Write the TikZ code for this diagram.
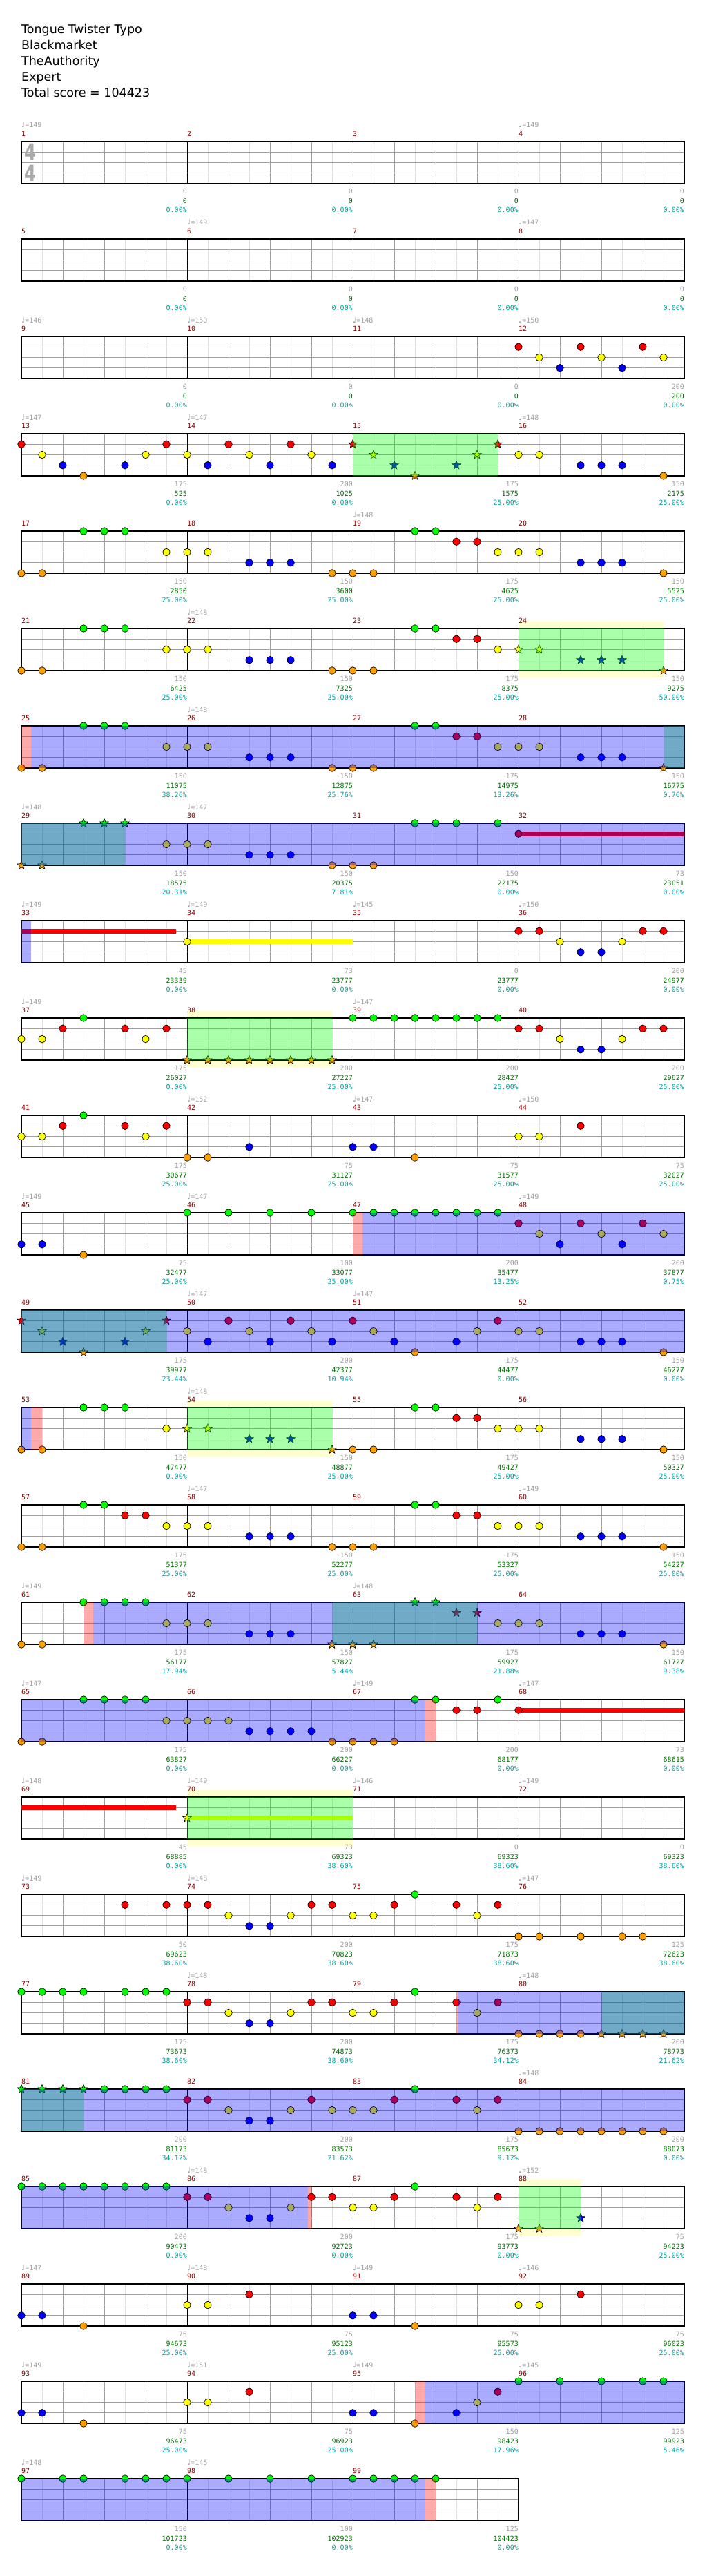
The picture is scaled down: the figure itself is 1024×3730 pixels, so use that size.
\documentclass[tikz,border=0pt]{standalone}
\usepackage{fontspec}
\setmainfont{DejaVu Sans}
\newfontfamily\labelfont{DejaVu Sans Mono}
\usetikzlibrary{shapes.geometric}

\definecolor{fretgreen}{RGB}{0,255,0}
\definecolor{fretred}{RGB}{255,0,0}
\definecolor{fretyellow}{RGB}{255,255,0}
\definecolor{fretblue}{RGB}{0,0,255}
\definecolor{fretorange}{RGB}{255,160,0}
\definecolor{gridgray}{RGB}{160,160,160}
\definecolor{gridlight}{RGB}{222,222,222}
\definecolor{labelgray}{RGB}{160,160,160}
\definecolor{measred}{RGB}{140,0,0}
\definecolor{scoregreen}{RGB}{0,110,0}
\definecolor{pctcyan}{RGB}{0,160,160}
\definecolor{phraseyellow}{RGB}{255,255,208}
\definecolor{siggray}{RGB}{170,170,170}

\newcommand{\smallfont}{\labelfont\fontsize{10}{12}\selectfont}

% staff of one row: #1 row, #2 number of measures
\newcommand{\drawstaff}[2]{%
  \pgfmathsetmacro\ry{205+141*(#1-1)}%
  \pgfmathsetmacro\rx{31+240*#2}%
  \pgfmathtruncatemacro\nlast{8*#2-1}%
  \pgfmathtruncatemacro\nm{#2-1}%
  \fill[white] (31,\ry) rectangle ({\rx},{\ry+61});
  \foreach \i in {1,3,...,\nlast} \draw[eighthline] ({31+30*\i},\ry) -- ({31+30*\i},{\ry+61});
  \foreach \i in {2,4,...,\nlast} \draw[quarterline] ({31+30*\i},\ry) -- ({31+30*\i},{\ry+61});
  \foreach \l in {1,2,3} \draw[stringline] (31,{\ry+15.25*\l}) -- ({\rx},{\ry+15.25*\l});
  \foreach \j in {0,...,\nm} {
    \pgfmathtruncatemacro\mnum{4*(#1-1)+\j+1}
    \draw[barline] ({31+240*\j},\ry) -- ({31+240*\j},{\ry+61});
    \node[measnum] (m\mnum) at ({31+240*\j},{\ry-7.5}) {\mnum};
  }
  \draw[staffborder] (31,\ry) rectangle ({\rx},{\ry+61});
}
% gems: #1 row, #2 style, #3 list eighth/lane
\newcommand{\drawnotes}[3]{%
  \pgfmathsetmacro\ry{205+141*(#1-1)}%
  \foreach \k/\l in {#3}
    \node[#2, lane\l] (n-#1-\k) at ({31+30*\k},{\ry+15.25*\l}) {};
}
% sustain: #1 row, #2 lane, #3 from, #4 to, #5 colour
\newcommand{\sustain}[5]{%
  \pgfmathsetmacro\ry{205+141*(#1-1)+15.25*#2}%
  \coordinate (sus-#1-#2-a) at (#3,\ry);
  \coordinate (sus-#1-#2-b) at (#4,\ry);
  \draw[sustainline, draw=#5] (sus-#1-#2-a) -- (sus-#1-#2-b);
}
% shaded zone on the staff: #1 row, #2 from, #3 to, #4 style
\newcommand{\spzone}[4]{%
  \pgfmathsetmacro\ry{205+141*(#1-1)}%
  \fill[#4] (#2,\ry) rectangle (#3,{\ry+61});
}
% pale box behind a phrase: #1 row, #2 from, #3 to
\newcommand{\phrase}[3]{%
  \pgfmathsetmacro\ry{205+141*(#1-1)}%
  \fill[phrasebox] (#2,{\ry-10}) rectangle (#3,{\ry+71});
}
% tempo marks: #1 row, #2 list measure/bpm
\newcommand{\tempos}[2]{%
  \pgfmathsetmacro\ry{205+141*(#1-1)}%
  \foreach \j/\bpm in {#2}
    \node[tempolabel] (t-#1-\j) at ({31+240*\j},{\ry-20}) {{\rmfamily\fontsize{11}{11}\selectfont ♩}=\bpm};
}
% labels under each measure: #1 row, #2 list gain/score/percent
\newcommand{\scores}[2]{%
  \pgfmathsetmacro\ry{205+141*(#1-1)}%
  \foreach \ga/\sc/\pc [count=\j] in {#2} {
    \node[gainlabel] (g-#1-\j) at ({31+240*\j},{\ry+76}) {\ga};
    \node[scorelabel] (s-#1-\j) at ({31+240*\j},{\ry+90}) {\sc};
    \node[pctlabel] (p-#1-\j) at ({31+240*\j},{\ry+103}) {\pc\%};
  }
}

\begin{document}
\begin{tikzpicture}[
    x=1pt, y=-1pt,
    gem/.style={circle, draw=black, line width=0.7pt, minimum size=10.5pt, inner sep=0pt},
    stargem/.style={star, star points=5, star point ratio=2.3, draw=black, line width=0.6pt, minimum size=13pt, inner sep=0pt},
    lane0/.style={fill=fretgreen},
    lane1/.style={fill=fretred},
    lane2/.style={fill=fretyellow},
    lane3/.style={fill=fretblue},
    lane4/.style={fill=fretorange},
    eighthline/.style={draw=gridlight, line width=1pt},
    quarterline/.style={draw=gridgray, line width=1pt},
    stringline/.style={draw=gridgray, line width=1pt},
    barline/.style={draw=black, line width=1pt},
    staffborder/.style={draw=black, line width=1.4pt},
    sustainline/.style={line width=7pt},
    spactive/.style={fill=blue, fill opacity=0.333},
    spphrase/.style={fill=green, fill opacity=0.333},
    spstart/.style={fill=red, fill opacity=0.333},
    phrasebox/.style={fill=phraseyellow},
    measnum/.style={anchor=base west, inner sep=0pt, text=measred, font=\smallfont},
    tempolabel/.style={anchor=base west, inner sep=0pt, text=labelgray, font=\smallfont},
    gainlabel/.style={anchor=base east, inner sep=0pt, text=labelgray, font=\smallfont},
    scorelabel/.style={anchor=base east, inner sep=0pt, text=scoregreen, font=\smallfont},
    pctlabel/.style={anchor=base east, inner sep=0pt, text=pctcyan, font=\smallfont},
    titletext/.style={anchor=base west, inner sep=0pt, font=\fontsize{17.5}{21}\selectfont},
    timesig/.style={inner sep=0pt, text=siggray, xscale=0.77, font=\fontsize{32}{32}\selectfont\bfseries}
]
\useasboundingbox (0,0) rectangle (1024,3730);

% ===== Header =====
\node[titletext] (song) at (31,49) {Tongue Twister Typo};
\node[titletext] (artist) at (31,72) {Blackmarket};
\node[titletext] (charter) at (31,95) {TheAuthority};
\node[titletext] (level) at (31,118) {Expert};
\node[titletext] (total) at (31,141) {Total score = 104423};

% ===== Row 1: measures 1-4 =====
\drawstaff{1}{4}
\node[timesig] (sigtop) at (44.5,220) {4};
\node[timesig] (sigbot) at (44.5,251) {4};
\tempos{1}{0/149,3/149}
\scores{1}{0/0/0.00,0/0/0.00,0/0/0.00,0/0/0.00}

% ===== Row 2: measures 5-8 =====
\drawstaff{2}{4}
\tempos{2}{1/149,3/147}
\scores{2}{0/0/0.00,0/0/0.00,0/0/0.00,0/0/0.00}

% ===== Row 3: measures 9-12 =====
\drawstaff{3}{4}
\drawnotes{3}{gem}{24/1,25/2,26/3,27/1,28/2,29/3,30/1,31/2}
\tempos{3}{0/146,1/150,2/148,3/150}
\scores{3}{0/0/0.00,0/0/0.00,0/0/0.00,200/200/0.00}

% ===== Row 4: measures 13-16 =====
\drawstaff{4}{4}
\drawnotes{4}{gem}{0/1,1/2,2/3,3/4,5/3,6/2,7/1,8/2,9/3,10/1,11/2,12/3,13/1,14/2,15/3,24/2,25/2,27/3,28/3,29/3,31/4}
\drawnotes{4}{stargem}{16/1,17/2,18/3,19/4,21/3,22/2,23/1}
\spzone{4}{511}{721}{spphrase}
\tempos{4}{0/147,1/147,3/148}
\scores{4}{175/525/0.00,200/1025/0.00,175/1575/25.00,150/2175/25.00}

% ===== Row 5: measures 17-20 =====
\drawstaff{5}{4}
\drawnotes{5}{gem}{0/4,1/4,3/0,4/0,5/0,7/2,8/2,9/2,11/3,12/3,13/3,15/4,16/4,17/4,19/0,20/0,21/1,22/1,23/2,24/2,25/2,27/3,28/3,29/3,31/4}
\tempos{5}{2/148}
\scores{5}{150/2850/25.00,150/3600/25.00,175/4625/25.00,150/5525/25.00}

% ===== Row 6: measures 21-24 =====
\phrase{6}{751}{961}
\drawstaff{6}{4}
\drawnotes{6}{gem}{0/4,1/4,3/0,4/0,5/0,7/2,8/2,9/2,11/3,12/3,13/3,15/4,16/4,17/4,19/0,20/0,21/1,22/1,23/2}
\drawnotes{6}{stargem}{24/2,25/2,27/3,28/3,29/3,31/4}
\spzone{6}{751}{961}{spphrase}
\tempos{6}{1/148}
\scores{6}{150/6425/25.00,150/7325/25.00,175/8375/25.00,150/9275/50.00}

% ===== Row 7: measures 25-28 =====
\drawstaff{7}{4}
\drawnotes{7}{gem}{0/4,1/4,3/0,4/0,5/0,7/2,8/2,9/2,11/3,12/3,13/3,15/4,16/4,17/4,19/0,20/0,21/1,22/1,23/2,24/2,25/2,27/3,28/3,29/3}
\drawnotes{7}{stargem}{31/4}
\spzone{7}{31}{45}{spstart}
\spzone{7}{961}{991}{spphrase}
\spzone{7}{45}{991}{spactive}
\tempos{7}{1/148}
\scores{7}{150/11075/38.26,150/12875/25.76,175/14975/13.26,150/16775/0.76}

% ===== Row 8: measures 29-32 =====
\drawstaff{8}{4}
\sustain{8}{1}{751}{991}{fretred}
\drawnotes{8}{stargem}{0/4,1/4,3/0,4/0,5/0}
\drawnotes{8}{gem}{7/2,8/2,9/2,11/3,12/3,13/3,15/4,16/4,17/4,19/0,20/0,21/0,23/0,24/1}
\spzone{8}{31}{181}{spphrase}
\spzone{8}{31}{991}{spactive}
\tempos{8}{0/148,1/147}
\scores{8}{150/18575/20.31,150/20375/7.81,150/22175/0.00,73/23051/0.00}

% ===== Row 9: measures 33-36 =====
\drawstaff{9}{4}
\sustain{9}{1}{31}{255}{fretred}
\sustain{9}{2}{271}{511}{fretyellow}
\drawnotes{9}{gem}{8/2,24/1,25/1,26/2,27/3,28/3,29/2,30/1,31/1}
\spzone{9}{31}{45}{spactive}
\tempos{9}{0/149,1/149,2/145,3/150}
\scores{9}{45/23339/0.00,73/23777/0.00,0/23777/0.00,200/24977/0.00}

% ===== Row 10: measures 37-40 =====
\phrase{10}{271}{481}
\drawstaff{10}{4}
\drawnotes{10}{gem}{0/2,1/2,2/1,3/0,5/1,6/2,7/1,16/0,17/0,18/0,19/0,20/0,21/0,22/0,23/0,24/1,25/1,26/2,27/3,28/3,29/2,30/1,31/1}
\drawnotes{10}{stargem}{8/4,9/4,10/4,11/4,12/4,13/4,14/4,15/4}
\spzone{10}{271}{481}{spphrase}
\tempos{10}{0/149,2/147}
\scores{10}{175/26027/0.00,200/27227/25.00,200/28427/25.00,200/29627/25.00}

% ===== Row 11: measures 41-44 =====
\drawstaff{11}{4}
\drawnotes{11}{gem}{0/2,1/2,2/1,3/0,5/1,6/2,7/1,8/4,9/4,11/3,16/3,17/3,19/4,24/2,25/2,27/1}
\tempos{11}{1/152,2/147,3/150}
\scores{11}{175/30677/25.00,75/31127/25.00,75/31577/25.00,75/32027/25.00}

% ===== Row 12: measures 45-48 =====
\drawstaff{12}{4}
\drawnotes{12}{gem}{0/3,1/3,3/4,8/0,10/0,12/0,14/0,16/0,17/0,18/0,19/0,20/0,21/0,22/0,23/0,24/1,25/2,26/3,27/1,28/2,29/3,30/1,31/2}
\spzone{12}{511}{524.5}{spstart}
\spzone{12}{524.5}{991}{spactive}
\tempos{12}{0/149,1/147,3/149}
\scores{12}{75/32477/25.00,100/33077/25.00,200/35477/13.25,200/37877/0.75}

% ===== Row 13: measures 49-52 =====
\drawstaff{13}{4}
\drawnotes{13}{stargem}{0/1,1/2,2/3,3/4,5/3,6/2,7/1}
\drawnotes{13}{gem}{8/2,9/3,10/1,11/2,12/3,13/1,14/2,15/3,16/1,17/2,18/3,19/4,21/3,22/2,23/1,24/2,25/2,27/3,28/3,29/3,31/4}
\spzone{13}{31}{241}{spphrase}
\spzone{13}{31}{991}{spactive}
\tempos{13}{1/147,2/147}
\scores{13}{175/39977/23.44,200/42377/10.94,175/44477/0.00,150/46277/0.00}

% ===== Row 14: measures 53-56 =====
\phrase{14}{271}{481}
\drawstaff{14}{4}
\drawnotes{14}{gem}{0/4,1/4,3/0,4/0,5/0,7/2,16/4,17/4,19/0,20/0,21/1,22/1,23/2,24/2,25/2,27/3,28/3,29/3,31/4}
\drawnotes{14}{stargem}{8/2,9/2,11/3,12/3,13/3,15/4}
\spzone{14}{31}{45}{spactive}
\spzone{14}{45}{61}{spstart}
\spzone{14}{271}{481}{spphrase}
\tempos{14}{1/148}
\scores{14}{150/47477/0.00,150/48877/25.00,175/49427/25.00,150/50327/25.00}

% ===== Row 15: measures 57-60 =====
\drawstaff{15}{4}
\drawnotes{15}{gem}{0/4,1/4,3/0,4/0,5/1,6/1,7/2,8/2,9/2,11/3,12/3,13/3,15/4,16/4,17/4,19/0,20/0,21/1,22/1,23/2,24/2,25/2,27/3,28/3,29/3,31/4}
\tempos{15}{1/147,3/149}
\scores{15}{175/51377/25.00,150/52277/25.00,175/53327/25.00,150/54227/25.00}

% ===== Row 16: measures 61-64 =====
\drawstaff{16}{4}
\drawnotes{16}{gem}{0/4,1/4,3/0,4/0,5/0,6/0,7/2,8/2,9/2,11/3,12/3,13/3,23/2,24/2,25/2,27/3,28/3,29/3,31/4}
\drawnotes{16}{stargem}{15/4,16/4,17/4,19/0,20/0,21/1,22/1}
\spzone{16}{121}{135}{spstart}
\spzone{16}{481}{691}{spphrase}
\spzone{16}{135}{991}{spactive}
\tempos{16}{0/149,2/148}
\scores{16}{175/56177/17.94,150/57827/5.44,175/59927/21.88,150/61727/9.38}

% ===== Row 17: measures 65-68 =====
\drawstaff{17}{4}
\sustain{17}{1}{751}{991}{fretred}
\drawnotes{17}{gem}{0/4,1/4,3/0,4/0,5/0,6/0,7/2,8/2,9/2,10/2,11/3,12/3,13/3,14/3,15/4,16/4,17/4,18/4,19/0,20/0,21/1,22/1,23/0,24/1}
\spzone{17}{31}{615}{spactive}
\spzone{17}{615}{631}{spstart}
\tempos{17}{0/147,2/149,3/147}
\scores{17}{175/63827/0.00,200/66227/0.00,200/68177/0.00,73/68615/0.00}

% ===== Row 18: measures 69-72 =====
\phrase{18}{271}{511}
\drawstaff{18}{4}
\sustain{18}{1}{31}{255}{fretred}
\sustain{18}{2}{271}{511}{fretyellow}
\drawnotes{18}{stargem}{8/2}
\spzone{18}{271}{511}{spphrase}
\tempos{18}{0/148,1/149,2/146,3/149}
\scores{18}{45/68885/0.00,73/69323/38.60,0/69323/38.60,0/69323/38.60}

% ===== Row 19: measures 73-76 =====
\drawstaff{19}{4}
\drawnotes{19}{gem}{5/1,7/1,8/1,9/1,10/2,11/3,12/3,13/2,14/1,15/1,16/2,17/2,18/1,19/0,21/1,22/2,23/1,24/4,25/4,27/4,29/4,30/4}
\tempos{19}{0/149,1/148,3/147}
\scores{19}{50/69623/38.60,200/70823/38.60,175/71873/38.60,125/72623/38.60}

% ===== Row 20: measures 77-80 =====
\drawstaff{20}{4}
\drawnotes{20}{gem}{0/0,1/0,2/0,3/0,5/0,6/0,7/0,8/1,9/1,10/2,11/3,12/3,13/2,14/1,15/1,16/2,17/2,18/1,19/0,21/1,22/2,23/1,24/4,25/4,26/4,27/4}
\drawnotes{20}{stargem}{28/4,29/4,30/4,31/4}
\spzone{20}{661}{664}{spstart}
\spzone{20}{871}{991}{spphrase}
\spzone{20}{664}{991}{spactive}
\tempos{20}{1/148,3/148}
\scores{20}{175/73673/38.60,200/74873/38.60,175/76373/34.12,200/78773/21.62}

% ===== Row 21: measures 81-84 =====
\drawstaff{21}{4}
\drawnotes{21}{stargem}{0/0,1/0,2/0,3/0}
\drawnotes{21}{gem}{4/0,5/0,6/0,7/0,8/1,9/1,10/2,11/3,12/3,13/2,14/1,15/2,16/2,17/2,18/1,19/0,21/1,22/2,23/1,24/4,25/4,26/4,27/4,28/4,29/4,30/4,31/4}
\spzone{21}{31}{121}{spphrase}
\spzone{21}{31}{991}{spactive}
\tempos{21}{3/148}
\scores{21}{200/81173/34.12,200/83573/21.62,175/85673/9.12,200/88073/0.00}

% ===== Row 22: measures 85-88 =====
\phrase{22}{751}{841}
\drawstaff{22}{4}
\drawnotes{22}{gem}{0/0,1/0,2/0,3/0,4/0,5/0,6/0,7/0,8/1,9/1,10/2,11/3,12/3,13/2,14/1,15/1,16/2,17/2,18/1,19/0,21/1,22/2,23/1}
\drawnotes{22}{stargem}{24/4,25/4,27/3}
\spzone{22}{31}{446}{spactive}
\spzone{22}{446}{452}{spstart}
\spzone{22}{751}{841}{spphrase}
\tempos{22}{1/148,3/152}
\scores{22}{200/90473/0.00,200/92723/0.00,175/93773/0.00,75/94223/25.00}

% ===== Row 23: measures 89-92 =====
\drawstaff{23}{4}
\drawnotes{23}{gem}{0/3,1/3,3/4,8/2,9/2,11/1,16/3,17/3,19/4,24/2,25/2,27/1}
\tempos{23}{0/147,1/148,2/149,3/146}
\scores{23}{75/94673/25.00,75/95123/25.00,75/95573/25.00,75/96023/25.00}

% ===== Row 24: measures 93-96 =====
\drawstaff{24}{4}
\drawnotes{24}{gem}{0/3,1/3,3/4,8/2,9/2,11/1,16/3,17/3,19/4,21/3,22/2,23/1,24/0,26/0,28/0,30/0,31/0}
\spzone{24}{601}{615}{spstart}
\spzone{24}{615}{991}{spactive}
\tempos{24}{0/149,1/151,2/149,3/145}
\scores{24}{75/96473/25.00,75/96923/25.00,150/98423/17.96,125/99923/5.46}

% ===== Row 25: measures 97-99 =====
\drawstaff{25}{3}
\drawnotes{25}{gem}{0/0,2/0,3/0,5/0,6/0,7/0,8/0,10/0,12/0,14/0,16/0,17/0,18/0,19/0,20/0}
\spzone{25}{31}{616}{spactive}
\spzone{25}{616}{631}{spstart}
\tempos{25}{0/148,1/145}
\scores{25}{150/101723/0.00,100/102923/0.00,125/104423/0.00}

\end{tikzpicture}
\end{document}
